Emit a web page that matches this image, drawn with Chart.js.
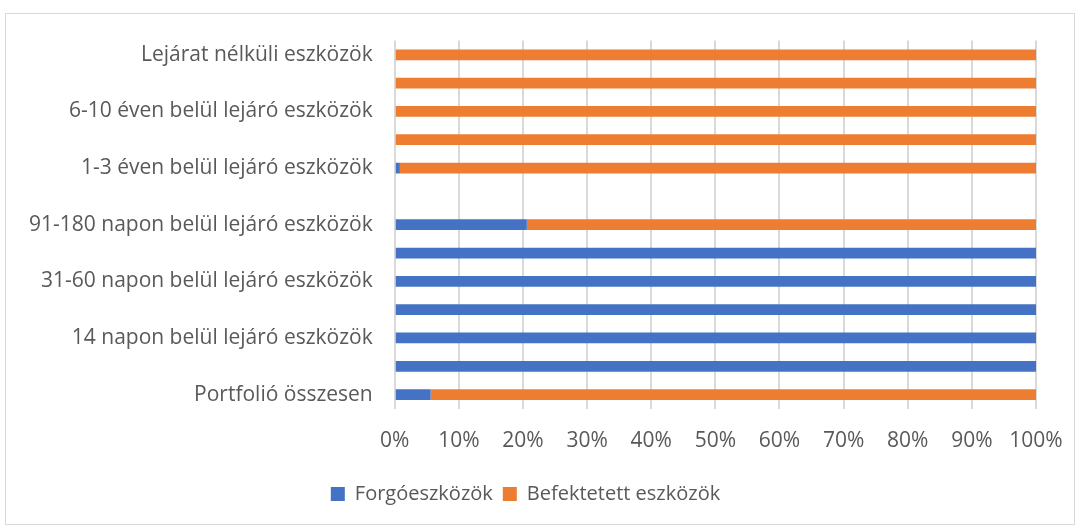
<!DOCTYPE html>
<html>
<head>
<meta charset="utf-8">
<script src="https://cdn.jsdelivr.net/npm/chart.js@4.4.1/dist/chart.umd.min.js"></script>
<style>
  body { margin: 0; background: #fff; }
  #wrap { position: absolute; left: 5px; top: 13px; width: 1070px; height: 512px; border: 1px solid #d9d9d9; box-sizing: border-box; }
</style>
</head>
<body>
<div id="wrap"><canvas id="myChart"></canvas></div>
<script>
// categories, top to bottom (Excel only prints every other label)
const categories = [
  'Lejárat nélküli eszközök',
  '10 éven túl lejáró eszközök',
  '6-10 éven belül lejáró eszközök',
  '3-6 éven belül lejáró eszközök',
  '1-3 éven belül lejáró eszközök',
  '181-365 napon belül lejáró eszközök',
  '91-180 napon belül lejáró eszközök',
  '61-90 napon belül lejáró eszközök',
  '31-60 napon belül lejáró eszközök',
  '15-30 napon belül lejáró eszközök',
  '14 napon belül lejáró eszközök',
  'Lejárt eszközök',
  'Portfolió összesen'
];

const forgoeszkozok = [0, 0, 0, 0, 0.8, null, 20.6, 100, 100, 100, 100, 100, 5.6];
const befektetett   = [100, 100, 100, 100, 99.2, null, 79.4, 0, 0, 0, 0, 0, 94.4];

const seriesNames = ['Forgóeszközök', 'Befektetett eszközök'];
const xTicks = [0, 10, 20, 30, 40, 50, 60, 70, 80, 90, 100];

function createChart () {
  const ctx = document.getElementById('myChart').getContext('2d');
  Chart.defaults.font.family = '"Open Sans", Lato, sans-serif';
  Chart.defaults.color = '#595959';

  new Chart(ctx, {
    type: 'bar',
    data: {
      labels: categories,
      datasets: [{
        label: seriesNames[0],
        backgroundColor: '#4472c4',
        data: forgoeszkozok,
        categoryPercentage: 0.38,
        barPercentage: 1
      }, {
        label: seriesNames[1],
        backgroundColor: '#ed7d31',
        data: befektetett,
        categoryPercentage: 0.38,
        barPercentage: 1
      }]
    },
    options: {
      indexAxis: 'y',
      responsive: true,
      maintainAspectRatio: false,
      animation: false,
      layout: { padding: { left: 9, right: 38, top: 19, bottom: 10 } },
      scales: {
        x: {
          stacked: true,
          min: 0,
          max: 100,
          afterBuildTicks: axis => { axis.ticks = xTicks.map(v => ({ value: v })); },
          afterFit: axis => { axis.paddingRight = 0; },
          ticks: { callback: v => v + '%', font: { size: 21 }, padding: 20 },
          grid: { color: '#d9d9d9', lineWidth: 2, drawTicks: false },
          border: { display: false }
        },
        y: {
          stacked: true,
          ticks: {
            autoSkip: false,
            font: { size: 21 },
            padding: 14,
            callback: function (v, i) { return i % 2 === 0 ? categories[i] : ''; }
          },
          grid: { display: false },
          border: { display: false }
        }
      },
      plugins: {
        legend: {
          position: 'bottom',
          labels: { boxWidth: 14, boxHeight: 14, font: { size: 20 }, padding: 10 }
        },
        tooltip: { enabled: false }
      }
    }
  });
}

createChart();
</script>
</body>
</html>
